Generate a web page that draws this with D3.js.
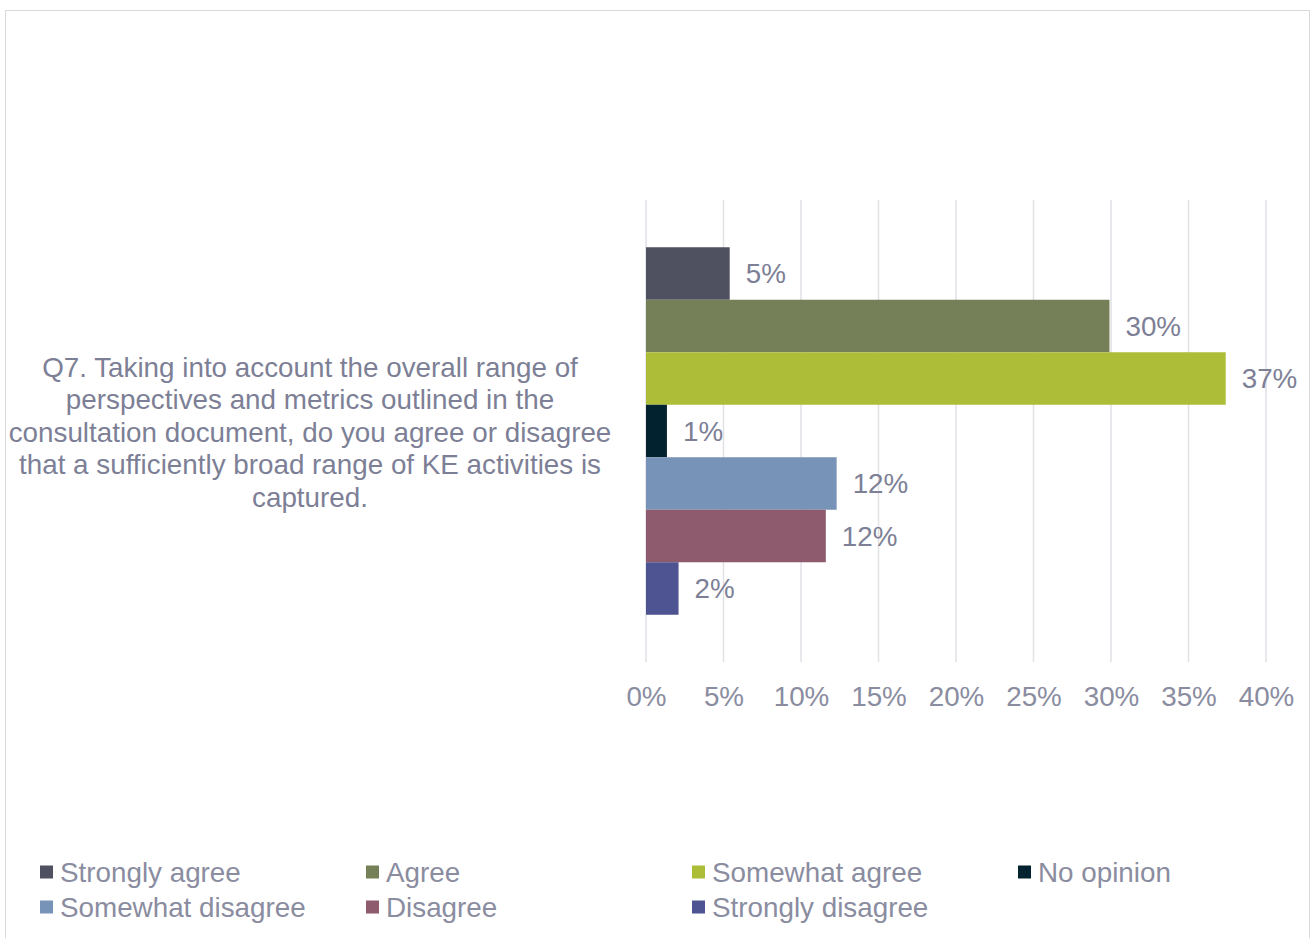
<!DOCTYPE html>
<html lang="en">
<head>
    <meta charset="UTF-8">
    <title>Q7 KE activities</title>
    <script src="https://d3js.org/d3.v7.min.js"></script>
    <style>
        body { margin: 0; background: #fff; }
        text { font-family: "Liberation Sans", Arial, sans-serif; }
    </style>
</head>
<body>
    <svg width="1311" height="938"></svg>

    <script>
        // data
        const category = "Q7";
        const categoryLines = [
            "Q7. Taking into account the overall range of",
            "perspectives and metrics outlined in the",
            "consultation document, do you agree or disagree",
            "that a sufficiently broad range of KE activities is",
            "captured."
        ];
        const series = ["Strongly agree", "Agree", "Somewhat agree", "No opinion",
                        "Somewhat disagree", "Disagree", "Strongly disagree"];
        const values = [0.054, 0.299, 0.374, 0.0135, 0.123, 0.116, 0.021];
        const colors = ["#4f5060", "#768058", "#adbd38", "#02222f",
                        "#7893b8", "#8d5a6e", "#4e5491"];
        const xTicks = [0, 0.05, 0.10, 0.15, 0.20, 0.25, 0.30, 0.35, 0.40];

        const width = 1311, height = 938;
        const margin = {top: 200, right: 45, bottom: 276, left: 646};
        const fontSize = 27.8;
        const textColor = "#7d7f96";

        const svg = d3.select("svg");

        // chart frame
        svg.append("rect")
            .attr("x", 5.5).attr("y", 10.5)
            .attr("width", 1304).attr("height", 940)
            .attr("fill", "none")
            .attr("stroke", "#d9d9d9");

        const x = d3.scaleLinear()
            .domain([0, 0.4])
            .range([margin.left, width - margin.right]);

        const y0 = d3.scaleBand()
            .domain([category])
            .range([margin.top, height - margin.bottom]);

        // gap width ~180% -> outer padding 0.9 step each side
        const y1 = d3.scaleBand()
            .domain(series)
            .range([0, y0.bandwidth()])
            .paddingOuter(0.9);

        // gridlines
        svg.append("g")
            .selectAll("line")
            .data(xTicks)
            .join("line")
            .attr("x1", d => x(d)).attr("x2", d => x(d))
            .attr("y1", margin.top).attr("y2", height - margin.bottom)
            .attr("stroke", "#e1e1e6")
            .attr("stroke-width", 1.5);

        // x axis labels
        const xAxis = svg.append("g")
            .attr("transform", `translate(0,${height - margin.bottom})`)
            .call(d3.axisBottom(x).tickValues(xTicks).tickFormat(d3.format(".0%")).tickSize(0).tickPadding(24));
        xAxis.select(".domain").remove();
        xAxis.selectAll("text")
            .attr("font-size", fontSize)
            .attr("font-family", "'Liberation Sans', Arial, sans-serif")
            .attr("fill", "#8a8ca0");

        // bars
        const g = svg.append("g")
            .attr("transform", `translate(0,${y0(category)})`);

        g.selectAll("rect")
            .data(series)
            .join("rect")
            .attr("x", x(0))
            .attr("y", d => y1(d))
            .attr("width", (d, i) => x(values[i]) - x(0))
            .attr("height", y1.bandwidth())
            .attr("fill", (d, i) => colors[i]);

        // data labels
        g.selectAll("text.lbl")
            .data(series)
            .join("text")
            .attr("class", "lbl")
            .attr("x", (d, i) => x(values[i]) + 16)
            .attr("y", d => y1(d) + y1.bandwidth() / 2)
            .attr("dy", "0.35em")
            .attr("font-size", fontSize)
            .attr("fill", textColor)
            .text((d, i) => d3.format(".0%")(values[i]));

        // category label (wrapped)
        const lineH = 32.5;
        const midY = y0(category) + y0.bandwidth() / 2 + 1;
        svg.append("text")
            .attr("text-anchor", "middle")
            .attr("font-size", fontSize)
            .attr("fill", textColor)
            .selectAll("tspan")
            .data(categoryLines)
            .join("tspan")
            .attr("x", 310)
            .attr("y", (d, i) => midY + (i - (categoryLines.length - 1) / 2) * lineH)
            .attr("dy", "0.35em")
            .text(d => d);

        // legend
        const legend = svg.append("g")
            .selectAll("g")
            .data(series)
            .join("g")
            .attr("transform", (d, i) => `translate(${40 + (i % 4) * 326},${872 + Math.floor(i / 4) * 35})`);

        legend.append("rect")
            .attr("x", 0).attr("y", -6.5)
            .attr("width", 13).attr("height", 13)
            .attr("fill", (d, i) => colors[i]);

        legend.append("text")
            .attr("x", 20)
            .attr("dy", "0.35em")
            .attr("font-size", fontSize)
            .attr("fill", "#8a8ca0")
            .text(d => d);
    </script>
</body>
</html>
